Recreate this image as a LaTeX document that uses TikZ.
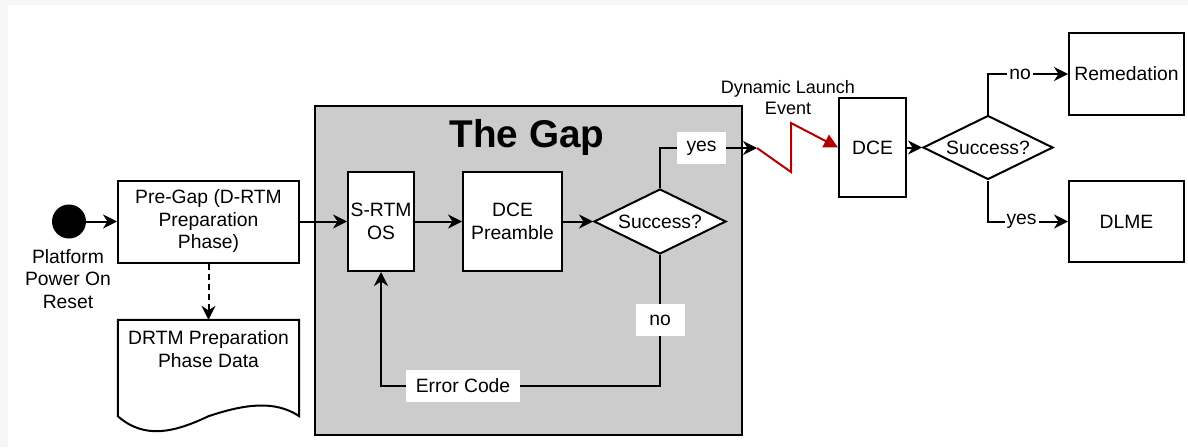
\documentclass[tikz,border=0pt]{standalone}
\usepackage{fontspec}
\setmainfont{Liberation Sans}
\usetikzlibrary{shapes.geometric,arrows.meta}
\definecolor{pagegray}{RGB}{245,246,248}
\definecolor{gapgray}{RGB}{204,204,204}
\definecolor{launchred}{RGB}{178,0,0}

\begin{document}
\begin{tikzpicture}[x=1pt,y=-1pt,
  txt/.style={font=\fontsize{19.3}{22.5}\selectfont, align=center, line width=2pt},
  box/.style={txt, draw, fill=white, inner sep=0pt},
  decision/.style={txt, draw, fill=white, diamond, inner sep=0pt, shape aspect=2},
  arr/.style={line width=2pt, -{Stealth[length=14pt,width=14pt,inset=4.5pt]}},
  tag/.style={txt, fill=white, inner xsep=9.5pt, inner ysep=0pt, minimum width=49pt, minimum height=32pt},
  plaintag/.style={txt, fill=white, inner sep=2pt},
]
% page background
\useasboundingbox (0,0) rectangle (1188,447);
\fill[pagegray] (0,0) rectangle (1188,447);
\fill[white] (8,5) rectangle (1188,447);

% start and preparation phase
\node[circle, fill=black, minimum size=34pt, inner sep=0pt] (start) at (69,221.5) {};
\node[txt] (startlbl) at (68,279) {Platform\\Power On\\Reset};
\node[box, minimum width=181pt, minimum height=82pt] (pregap) at (208.5,221.5) {Pre-Gap (D-RTM\\Preparation\\Phase)};
\draw[arr] (start) -- (pregap.west);

% document with preparation data
\node[minimum width=181pt, minimum height=96pt, inner sep=0pt] (doc) at (208.5,368) {};
\draw[line width=2pt, fill=white] (doc.south west) -- (doc.north west) -- (doc.north east) -- (doc.south east)
  .. controls (275,400) and (245,404) .. (doc.south)
  .. controls (175,432) and (145,440) .. cycle;
\node[txt] (doctext) at (208.5,349) {DRTM Preparation\\Phase Data};
\draw[arr, dash pattern=on 6pt off 4pt] (pregap.south) -- (doc.north);

% the gap
\node[draw, fill=gapgray, line width=2pt, minimum width=427pt, minimum height=329pt, inner sep=0pt] (gap) at (528.5,270.5) {};
\node[font=\fontsize{38.7}{44}\selectfont\bfseries, anchor=base] (title) at (527,147) {The Gap};
\node[box, minimum width=66pt, minimum height=99pt] (srtm) at (381,221.5) {S-RTM\\OS};
\node[box, minimum width=99pt, minimum height=99pt] (pre) at (512.5,221.5) {DCE\\Preamble};
\node[decision, minimum width=132pt, minimum height=65pt] (succ1) at (660,221.5) {Success?};
\draw[arr] (pregap.east) -- (srtm.west);
\draw[arr] (srtm.east) -- (pre.west);
\draw[arr] (pre.east) -- (succ1.west);

\coordinate (dle) at (757,148);
\draw[arr] (succ1.north) |- node[tag, pos=0.714] {yes} (dle);

\coordinate (loopR) at (660,385.5);
\coordinate (loopL) at (381,385.5);
\draw[arr] (succ1.south) -- node[tag] {no} (loopR) -- node[tag, pos=0.706] {Error Code} (loopL) -- (srtm.south);

% dynamic launch
\node[txt, font=\fontsize{18}{21}\selectfont] (dlelbl) at (788,97.5) {Dynamic Launch\\Event};
\node[box, minimum width=67pt, minimum height=99pt] (dce) at (872.5,147.5) {DCE};
\coordinate (zz1) at (791,172);
\coordinate (zz2) at (791,123);
\draw[line width=2pt, launchred, -{Triangle[length=14pt,width=14pt]}] (dle) -- (zz1) -- (zz2) -- (dce.west);

\node[decision, minimum width=130pt, minimum height=64pt] (succ2) at (988,147.5) {Success?};
\draw[arr] (dce.east) -- (succ2.west);
\node[box, minimum width=115pt, minimum height=82pt] (rem) at (1126.5,74) {Remedation};
\node[box, minimum width=115pt, minimum height=81pt] (dlme) at (1126.5,221.5) {DLME};
\draw[arr] (succ2.north) |- node[plaintag, pos=0.70] {no} (rem.west);
\draw[arr] (succ2.south) |- node[plaintag, pos=0.71] {yes} (dlme.west);
\end{tikzpicture}
\end{document}
